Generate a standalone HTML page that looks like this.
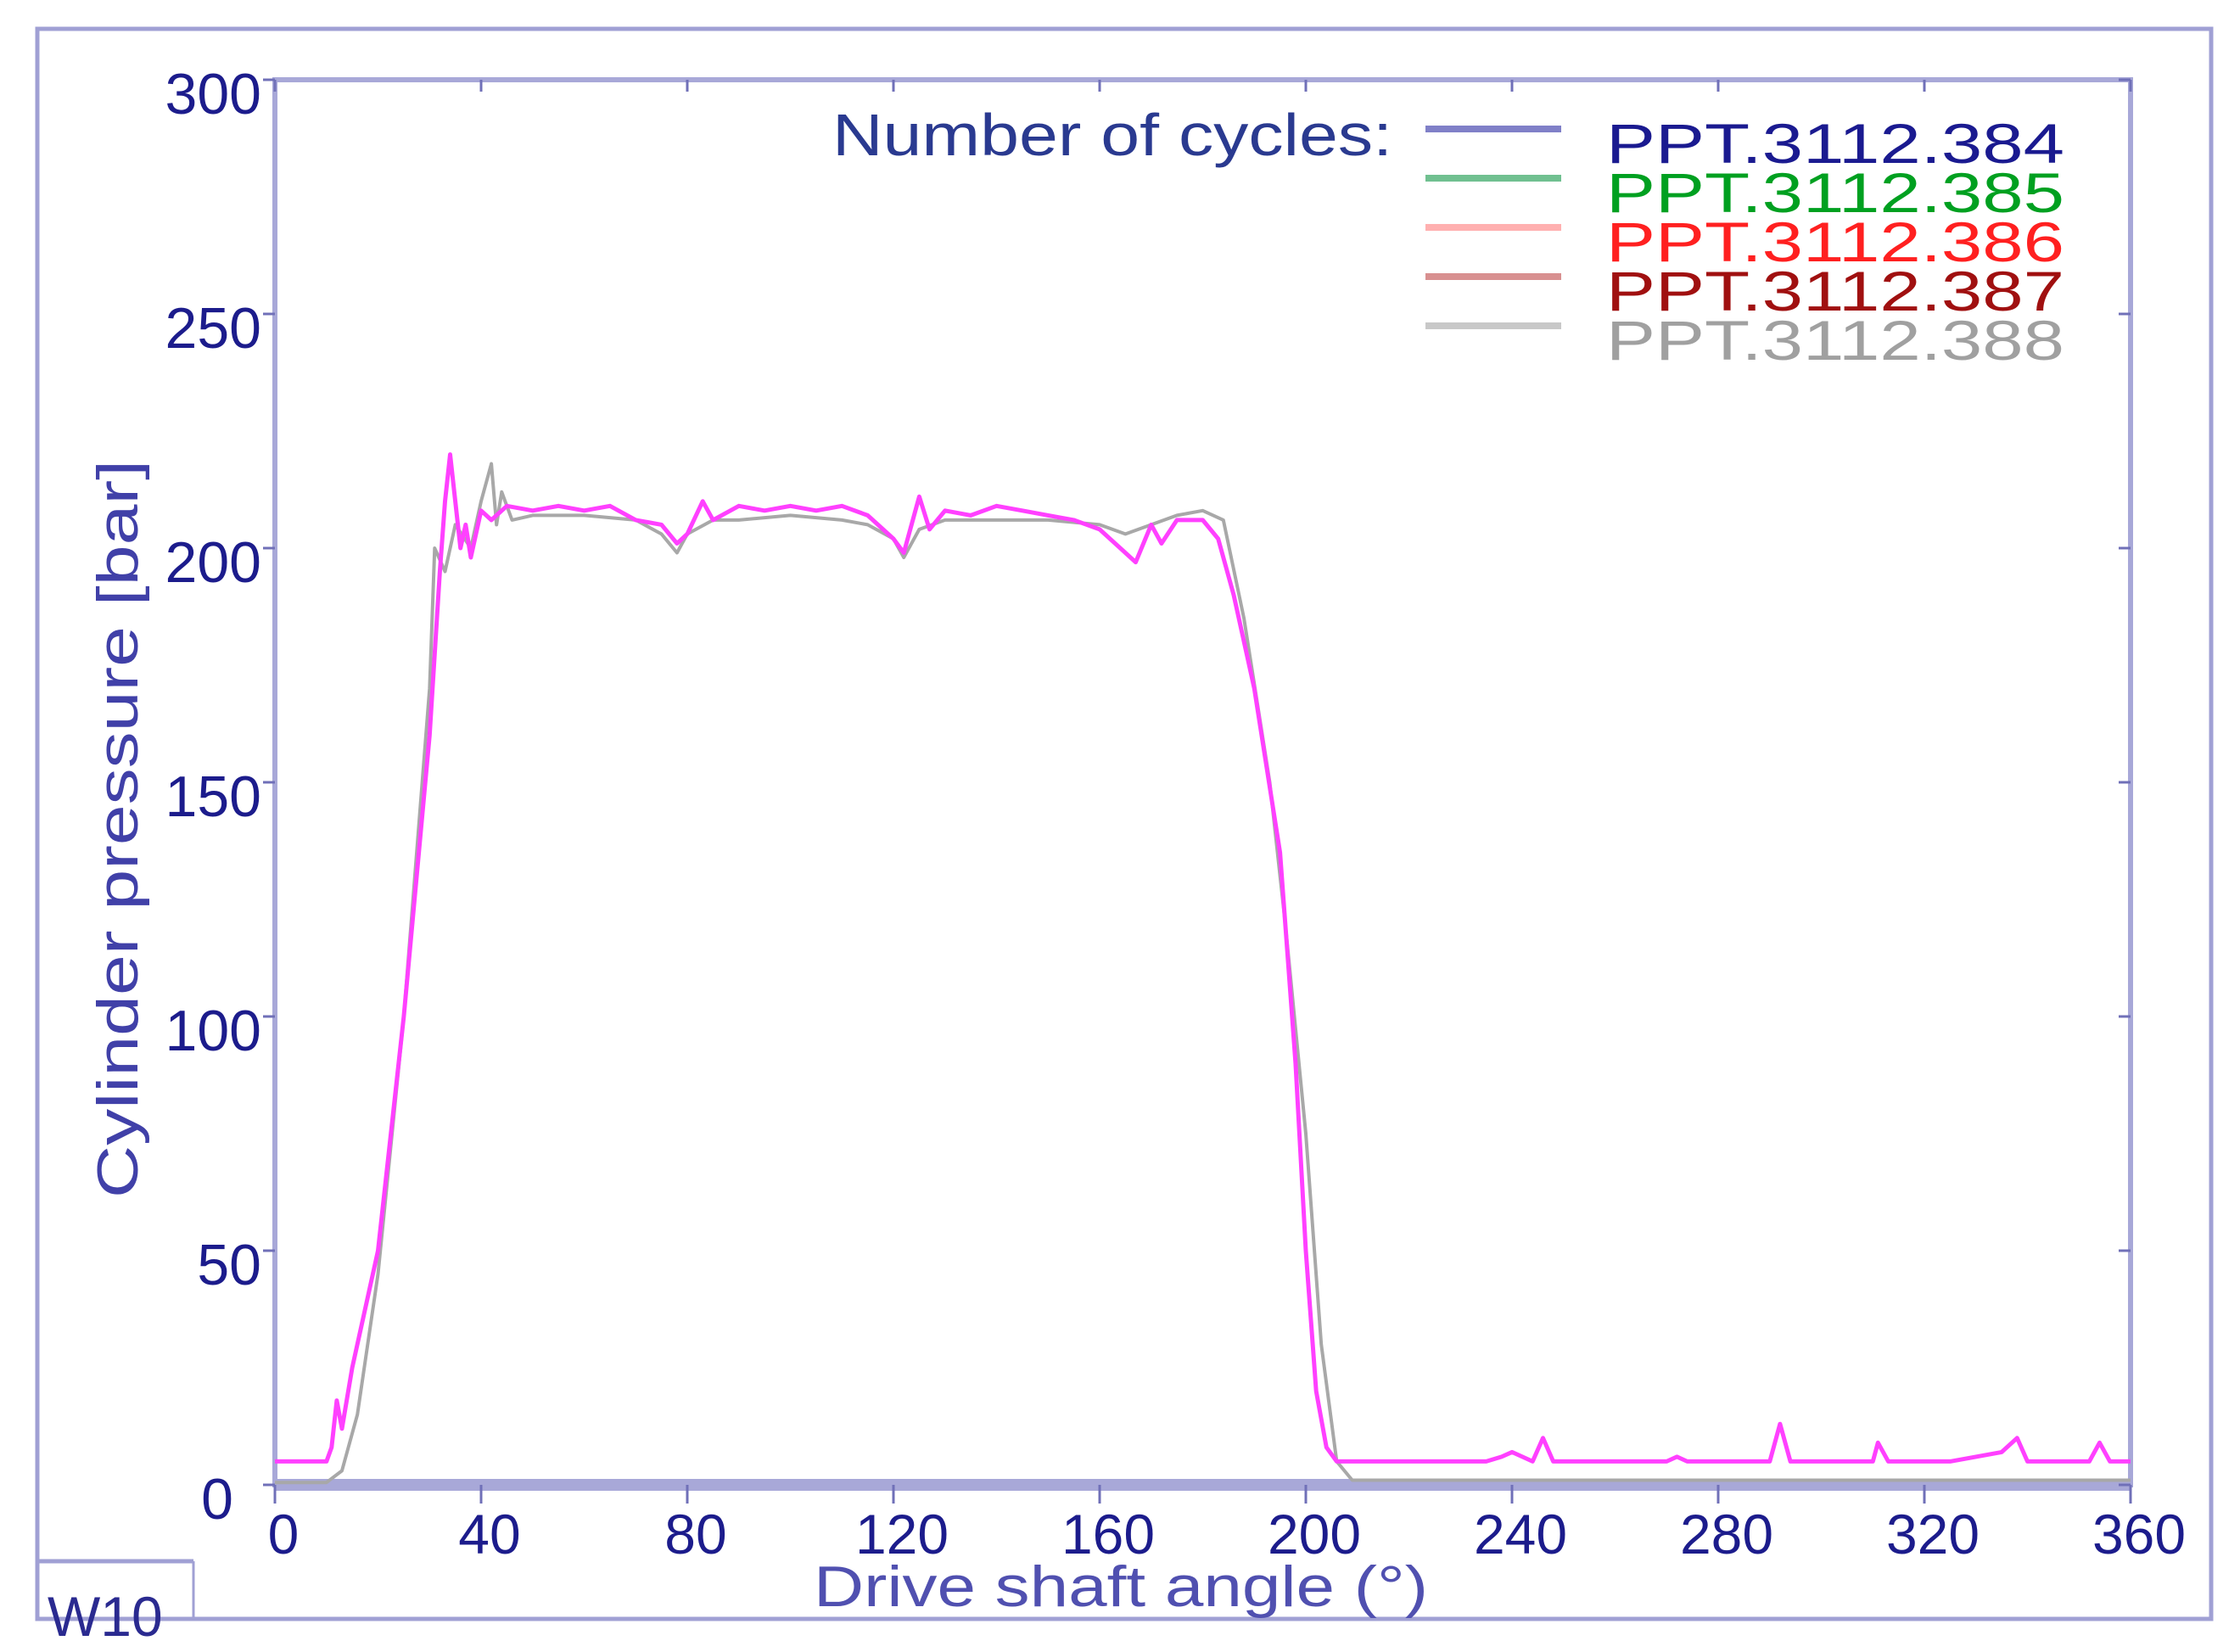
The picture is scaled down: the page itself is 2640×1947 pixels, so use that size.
<!DOCTYPE html>
<html><head><meta charset="utf-8">
<style>
html,body{margin:0;padding:0;background:#fff;}
svg{display:block;}
text{font-family:"Liberation Sans",sans-serif;}
</style></head>
<body>
<svg id="chart" width="2640" height="1947" viewBox="0 0 2640 1947" xmlns="http://www.w3.org/2000/svg">
  <rect x="0" y="0" width="2640" height="1947" fill="#fff"/>
  <rect x="44" y="34" width="2562" height="1874" fill="none" stroke="#a0a0d4" stroke-width="5"/>
  <g id="plot"></g>
  <text transform="translate(162,977) rotate(-90)" text-anchor="middle" font-size="68" fill="#4040a8" textLength="870" lengthAdjust="spacingAndGlyphs">Cylinder pressure  [bar]</text>
  <text x="1321" y="1893" text-anchor="middle" font-size="68" fill="#5050b0" textLength="724" lengthAdjust="spacingAndGlyphs">Drive shaft angle (°)</text>
  <g id="legend">
    <text x="981" y="183" font-size="70" fill="#2a3a90" textLength="660" lengthAdjust="spacingAndGlyphs">Number of cycles:</text>
  </g>
  <g>
    <line x1="44" y1="1840" x2="228" y2="1840" stroke="#a0a0d4" stroke-width="5"/>
    <line x1="228" y1="1840" x2="228" y2="1908" stroke="#a0a0d4" stroke-width="3"/>
    <text x="56" y="1928" font-size="66" fill="#2a2a90">W10</text>
  </g>
</svg>
<script>
const xTicks = [0,40,80,120,160,200,240,280,320,360];
const yTicks = [0,50,100,150,200,250,300];
const seriesNames = ["PPT.3112.384","PPT.3112.385","PPT.3112.386","PPT.3112.387","PPT.3112.388"];
const magentaX = [0,10,11,12,13,15,20,25,30,32,33,34,35,36,37,38,40,42,45,50,55,60,65,70,75,78,80,83,85,90,95,100,105,110,115,118,120,122,125,127,130,135,140,145,150,155,160,164,167,170,172,175,180,183,186,190,195,198,200,202,204,206,220,235,238,240,242,244,246,248,260,270,272,274,285,290,292,294,305,310,311,313,325,330,335,338,340,350,352,354,356,360];
const magentaY = [5,5,8,18,12,25,50,100,160,195,210,220,210,200,205,198,208,206,209,208,209,208,209,206,205,201,203,210,206,209,208,209,208,209,207,204,202,199,211,204,208,207,209,208,207,206,204,200,197,205,201,206,206,202,190,170,135,90,50,20,8,5,5,5,6,7,6,5,10,5,5,5,6,5,5,5,13,5,5,5,9,5,5,6,7,10,5,5,5,9,5,5];
const grayX = [0,10,13,16,20,25,30,31,33,35,38,40,42,43,44,46,50,60,70,75,78,80,85,90,100,110,115,120,122,125,130,140,150,160,165,170,175,180,184,188,193,196,200,203,206,209,235,240,245,360];
const grayY = [0.5,0.5,3,15,45,100,170,200,195,205,200,210,218,205,212,206,207,207,206,203,199,203,206,206,207,206,205,202,198,204,206,206,206,205,203,205,207,208,206,185,150,120,75,30,5,1,1,1,1,1];

const NS="http://www.w3.org/2000/svg";
const L=324,R=2511,T=94,B=1750;
const xs=v=>L+(v-0)/(360-0)*(R-L);
const ys=v=>B-(v-0)/(300-0)*(B-T);
const plot=document.getElementById('plot');
function mk(tag,attrs,parent){const e=document.createElementNS(NS,tag);for(const k in attrs)e.setAttribute(k,attrs[k]);(parent||plot).appendChild(e);return e;}

const frame=mk('rect',{x:L,y:T,width:R-L,height:B-T,fill:'none',stroke:'#a8a8d8','stroke-width':6});


const base=mk('line',{x1:L,x2:R,y1:B,y2:B,stroke:'#a8a8d8','stroke-width':14});



xTicks.forEach(t=>{
  const tk=mk('line',{x1:xs(t),x2:xs(t),y1:B,y2:B+22,stroke:'#7070b8','stroke-width':3});
  
  
  const tt=mk('line',{x1:xs(t),x2:xs(t),y1:T,y2:T+14,stroke:'#7070b8','stroke-width':3});
  
  
  const lb=mk('text',{x:xs(t)+10,y:1831,'text-anchor':'middle','font-size':66,fill:'#1c1c8c'});
  lb.textContent=String(t);
  
  
});
yTicks.forEach(t=>{
  const tk=mk('line',{x1:L-14,x2:L,y1:ys(t),y2:ys(t),stroke:'#7070b8','stroke-width':3});
  
  
  const tr=mk('line',{x1:R-14,x2:R,y1:ys(t),y2:ys(t),stroke:'#7070b8','stroke-width':3});
  
  
  const lb=mk('text',{x:t===0?275:308,y:ys(t)+40,'text-anchor':'end','font-size':68,fill:'#1c1c8c'});
  lb.textContent=String(t);
  
  
});

function path(xa,ya){return xa.map((x,i)=>(i?'L':'M')+xs(x).toFixed(1)+','+ys(ya[i]).toFixed(1)).join(' ');}
const g=mk('path',{d:path(grayX,grayY),fill:'none',stroke:'#a8a8a8','stroke-width':4,'stroke-linejoin':'round'});


const m=mk('path',{d:path(magentaX,magentaY),fill:'none',stroke:'#ff40ff','stroke-width':5,'stroke-linejoin':'round'});



const lineCols=['#8080c8','#70c090','#ffb0b0','#d89090','#c8c8c8'];
const txtCols=['#1a1a90','#00a020','#ff2020','#a01010','#a0a0a0'];
const legend=document.getElementById('legend');
seriesNames.forEach((n,i)=>{
  const y=152+i*58;
  const ln=mk('line',{x1:1680,x2:1840,y1:y,y2:y,stroke:lineCols[i],'stroke-width':8},legend);
  
  
  const tx=mk('text',{x:1893,y:y+40,'font-size':66,fill:txtCols[i],textLength:540,lengthAdjust:'spacingAndGlyphs'},legend);
  tx.textContent=n;
  
  
});
</script>
</body></html>
